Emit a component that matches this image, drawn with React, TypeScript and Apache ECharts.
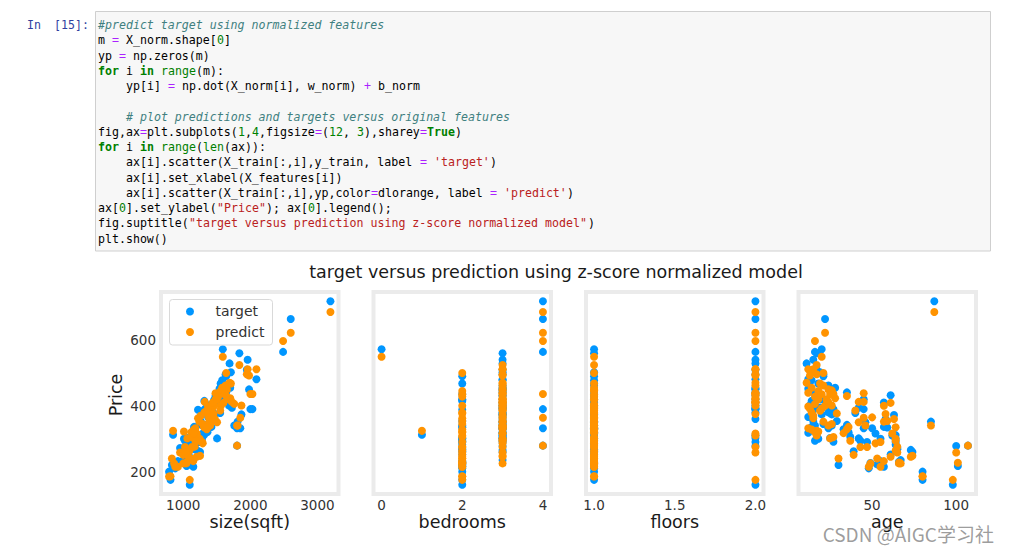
import React, { useEffect, useRef } from 'react';
import * as echarts from 'echarts';

// ---- data (one entry per house) ----
const sizeSqft = [1589, 1836, 1959, 1947, 2602, 2488, 848, 1200, 1557, 1430, 1220, 1682, 1760, 1260, 1314, 2091, 1981, 2031, 1867, 1802, 1690, 1710, 1630, 1580, 1650, 1540, 1600, 1520, 1480, 1700, 1460, 1390, 1350, 1440, 1410, 1370, 1240, 1180, 1120, 1060, 1130, 1290, 1160, 1500, 1620, 952, 1244, 1725, 864, 1026, 1092, 1504, 1350, 1180, 1000, 1320, 1480, 1380, 1290, 1040, 1110, 1150, 1600, 1560, 1450, 1420, 1390, 1310, 1230, 1170, 1080, 1050, 1000, 1200, 1250, 1400, 1130, 1470, 920, 1550, 1280, 1200, 1360, 3194, 788, 810, 1097, 1040, 1050, 1802, 1810, 2000, 1850, 1640, 880, 830, 1010, 1160, 1640];
const bedrooms = [0, 3, 3, 3, 4, 4, 1, 2, 2, 3, 2, 3, 3, 3, 2, 3, 3, 3, 3, 3, 3, 3, 3, 3, 3, 3, 3, 2, 3, 3, 2, 3, 3, 3, 2, 3, 3, 3, 2, 3, 2, 2, 2, 3, 2, 2, 3, 3, 2, 3, 2, 3, 3, 3, 2, 3, 3, 3, 3, 2, 2, 2, 3, 3, 3, 3, 2, 3, 3, 2, 2, 2, 3, 3, 3, 3, 2, 3, 2, 3, 2, 3, 3, 4, 2, 2, 2, 3, 2, 4, 3, 4, 4, 2, 2, 2, 2, 3, 3];
const floors = [1, 1, 2, 2, 2, 2, 1, 2, 1, 1, 1, 2, 1, 1, 1, 2, 2, 2, 1, 1, 2, 1, 2, 1, 1, 2, 1, 1, 1, 2, 1, 1, 1, 2, 1, 1, 1, 1, 1, 1, 1, 1, 1, 1, 1, 1, 1, 2, 1, 1, 1, 1, 1, 1, 1, 2, 2, 1, 1, 1, 1, 1, 2, 2, 2, 1, 1, 1, 1, 1, 1, 1, 1, 1, 1, 1, 2, 1, 1, 1, 1, 2, 1, 2, 1, 1, 2, 2, 1, 1, 1, 2, 1, 1, 1, 1, 1, 1, 2];
const age = [20, 17, 15, 17, 22, 16, 17, 17, 18, 20, 15, 23, 16, 15, 14, 12, 13, 25, 26, 24, 11, 19, 21, 14, 24, 12, 26, 16, 18, 28, 22, 13, 19, 24, 29, 12, 21, 12, 16, 25, 27, 26, 14, 23, 20, 65, 64, 42, 66, 43, 64, 42, 35, 37, 39, 45, 45, 50, 52, 49, 53, 57, 61, 57, 58, 57, 59, 64, 64, 65, 61, 66, 67, 73, 74, 46, 47, 63, 55, 40, 55, 62, 36, 87, 80, 80, 98, 100, 101, 107, 85, 27, 45, 21, 48, 30, 18, 33, 35];
const price = [572, 560, 540, 510, 664, 564, 312, 302, 468, 374, 388, 401, 340, 353, 415, 481, 450, 390, 374, 332, 529, 502, 495, 478, 462, 452, 445, 436, 430, 455, 418, 402, 395, 380, 354, 366, 345, 318, 294, 302, 291, 340, 336, 410, 420, 272, 300, 394, 230, 294, 282, 301, 342, 306, 262, 390, 420, 332, 316, 226, 222, 215, 432, 410, 360, 336, 334, 311, 290, 268, 252, 227, 235, 266, 260, 350, 290, 372, 232, 378, 300, 310, 320, 718, 200, 175, 160, 278, 217, 279, 352, 390, 332, 490, 210, 220, 300, 329, 441];
const predicted = [549, 524, 511, 496, 622, 597, 324, 310, 445, 392, 362, 420, 406, 370, 380, 511, 492, 436, 401, 340, 470, 468, 462, 455, 450, 440, 447, 428, 420, 423, 400, 392, 385, 410, 377, 398, 352, 332, 320, 301, 305, 345, 328, 418, 435, 258, 300, 412, 225, 275, 264, 350, 329, 294, 251, 412, 438, 365, 286, 225, 240, 232, 409, 400, 375, 352, 354, 335, 294, 276, 245, 228, 225, 245, 248, 340, 275, 360, 215, 386, 290, 316, 336, 685, 185, 186, 175, 258, 227, 279, 340, 436, 364, 500, 215, 240, 322, 317, 430];

const featureNames = ['size(sqft)', 'bedrooms', 'floors', 'age'];
const features = [sizeSqft, bedrooms, floors, age];
const xTickValues = [[1000, 2000, 3000], [0, 2, 4], [1.0, 1.5, 2.0], [50, 100]];
const xRanges = [[668, 3314], [-0.2, 4.2], [0.95, 2.05], [6.2, 111.8]];
const yTickValues = [200, 400, 600];
const yRange = [132, 746];
const suptitle = 'target versus prediction using z-score normalized model';
const yLabel = 'Price';
const legendNames = ['target', 'predict'];

type Tok = [string, string];
const codeLines: Tok[][] = [
  [['c', '#predict target using normalized features']],
  [['n', 'm '], ['o', '='], ['n', ' X_norm.shape['], ['num', '0'], ['n', ']']],
  [['n', 'yp '], ['o', '='], ['n', ' np.zeros(m)']],
  [['k', 'for'], ['n', ' i '], ['k', 'in'], ['n', ' '], ['b', 'range'], ['n', '(m):']],
  [['n', '    yp[i] '], ['o', '='], ['n', ' np.dot(X_norm[i], w_norm) '], ['o', '+'], ['n', ' b_norm']],
  [],
  [['c', '    # plot predictions and targets versus original features']],
  [['n', 'fig,ax'], ['o', '='], ['n', 'plt.subplots('], ['num', '1'], ['n', ','], ['num', '4'], ['n', ',figsize'], ['o', '='], ['n', '('], ['num', '12'], ['n', ', '], ['num', '3'], ['n', '),sharey'], ['o', '='], ['k', 'True'], ['n', ')']],
  [['k', 'for'], ['n', ' i '], ['k', 'in'], ['n', ' '], ['b', 'range'], ['n', '('], ['b', 'len'], ['n', '(ax)):']],
  [['n', '    ax[i].scatter(X_train[:,i],y_train, label '], ['o', '='], ['n', ' '], ['s', "'target'"], ['n', ')']],
  [['n', '    ax[i].set_xlabel(X_features[i])']],
  [['n', '    ax[i].scatter(X_train[:,i],yp,color'], ['o', '='], ['n', 'dlorange, label '], ['o', '='], ['n', ' '], ['s', "'predict'"], ['n', ')']],
  [['n', 'ax['], ['num', '0'], ['n', '].set_ylabel('], ['s', '"Price"'], ['n', '); ax['], ['num', '0'], ['n', '].legend();']],
  [['n', 'fig.suptitle('], ['s', '"target versus prediction using z-score normalized model"'], ['n', ')']],
  [['n', 'plt.show()']],
];

const BLUE = '#0096ff';
const ORANGE = '#ff9300';
const MPL_FONT = 'DejaVu Sans';
const MONO = 'DejaVu Sans Mono';

const tokStyle: Record<string, any> = {
  n: { fill: '#000000' },
  c: { fill: '#408080', fontStyle: 'italic' },
  k: { fill: '#008000', fontWeight: 'bold' },
  b: { fill: '#008000' },
  o: { fill: '#aa22ff' },
  num: { fill: '#008000' },
  s: { fill: '#ba2121' },
};

function buildOption() {
  const gridLefts = [161, 373.5, 586, 798.5];
  const gridW = 177.5;
  const gridTop = 292;
  const gridH = 202;

  const grids = gridLefts.map((l) => ({
    left: l,
    top: gridTop,
    width: gridW,
    height: gridH,
    show: true,
    backgroundColor: '#ffffff',
    borderColor: '#ebebeb',
    borderWidth: 4,
  }));

  const xAxes = features.map((_, i) => ({
    type: 'value',
    gridIndex: i,
    min: xRanges[i][0],
    max: xRanges[i][1],
    axisLine: { show: false },
    axisTick: { show: false },
    splitLine: { show: false },
    axisLabel: {
      customValues: xTickValues[i],
      margin: 4,
      fontSize: 13.5,
      fontFamily: MPL_FONT,
      color: '#333333',
      formatter: (v: number) => (i === 2 ? v.toFixed(1) : String(v)),
    },
  }));

  const yAxes = features.map((_, i) => ({
    type: 'value',
    gridIndex: i,
    min: yRange[0],
    max: yRange[1],
    axisLine: { show: false },
    axisTick: { show: false },
    splitLine: { show: false },
    axisLabel: {
      show: i === 0,
      customValues: yTickValues,
      margin: 5,
      fontSize: 13.5,
      fontFamily: MPL_FONT,
      color: '#333333',
    },
  }));

  const series: any[] = [];
  features.forEach((f, i) => {
    series.push({
      type: 'scatter',
      name: legendNames[0],
      xAxisIndex: i,
      yAxisIndex: i,
      symbolSize: 8,
      itemStyle: { color: BLUE, opacity: 1 },
      data: f.map((x, k) => [x, price[k]]),
      z: 2,
    });
    series.push({
      type: 'scatter',
      name: legendNames[1],
      xAxisIndex: i,
      yAxisIndex: i,
      symbolSize: 8,
      itemStyle: { color: ORANGE, opacity: 1 },
      data: f.map((x, k) => [x, predicted[k]]),
      z: 3,
    });
  });

  const graphics: any[] = [];
  // code cell
  graphics.push({
    type: 'rect',
    shape: { x: 95.5, y: 11.5, width: 895, height: 239.5 },
    style: { fill: '#f7f7f7', stroke: '#cfcfcf', lineWidth: 1 },
    z: 1,
  });
  graphics.push({
    type: 'text', x: 27, y: 25, z: 2,
    style: { text: 'In', fill: '#303f9f', fontSize: 11.6, fontFamily: MONO, textVerticalAlign: 'middle' },
  });
  graphics.push({
    type: 'text', x: 54, y: 25, z: 2,
    style: { text: '[15]:', fill: '#303f9f', fontSize: 11.6, fontFamily: MONO, textVerticalAlign: 'middle' },
  });
  const CODE_X = 98, CODE_Y0 = 25, LINE_H = 15.25, CHAR_W = 7;
  codeLines.forEach((line, li) => {
    let col = 0;
    line.forEach(([st, txt]) => {
      const trimmed = txt.replace(/^ +/, '');
      const lead = txt.length - trimmed.length;
      const body = trimmed.replace(/ +$/, '');
      if (body.length) {
        graphics.push({
          type: 'text',
          x: CODE_X + (col + lead) * CHAR_W,
          y: CODE_Y0 + li * LINE_H,
          z: 2,
          style: {
            text: body,
            fontSize: 11.6,
            fontFamily: MONO,
            textVerticalAlign: 'middle',
            ...tokStyle[st],
          },
        });
      }
      col += txt.length;
    });
  });

  // suptitle
  graphics.push({
    type: 'text', x: 556, y: 272, z: 5,
    style: { text: suptitle, fontSize: 17.5, fontFamily: MPL_FONT, fill: '#1a1a1a', textAlign: 'center', textVerticalAlign: 'middle' },
  });
  // axis labels
  featureNames.forEach((nm, i) => {
    graphics.push({
      type: 'text', x: gridLefts[i] + gridW / 2, y: 522, z: 5,
      style: { text: nm, fontSize: 17.5, fontFamily: MPL_FONT, fill: '#1a1a1a', textAlign: 'center', textVerticalAlign: 'middle' },
    });
  });
  graphics.push({
    type: 'text', x: 116, y: 395, rotation: Math.PI / 2, z: 5,
    style: { text: yLabel, fontSize: 17.5, fontFamily: MPL_FONT, fill: '#1a1a1a', textAlign: 'center', textVerticalAlign: 'middle' },
  });
  // legend
  graphics.push({
    type: 'rect', z: 50,
    shape: { x: 169.5, y: 299.5, width: 103, height: 45.5, r: 3 },
    style: { fill: 'rgba(255,255,255,0.85)', stroke: '#d9d9d9', lineWidth: 1 },
  });
  [BLUE, ORANGE].forEach((c, k) => {
    graphics.push({
      type: 'circle', z: 51,
      shape: { cx: 190, cy: 311.5 + k * 20.5, r: 4 },
      style: { fill: c },
    });
    graphics.push({
      type: 'text', x: 215.5, y: 311 + k * 20.5, z: 51,
      style: { text: legendNames[k], fontSize: 14, fontFamily: MPL_FONT, fill: '#333333', textVerticalAlign: 'middle' },
    });
  });
  // watermark
  graphics.push({
    type: 'text', x: 994, y: 533, z: 60,
    style: { text: 'CSDN @AIGC学习社', fontSize: 19, fontFamily: 'Noto Sans CJK SC', fill: 'rgba(140,140,140,0.85)', textAlign: 'right', textVerticalAlign: 'middle' },
  });

  return {
    animation: false,
    backgroundColor: '#ffffff',
    grid: grids,
    xAxis: xAxes,
    yAxis: yAxes,
    series,
    graphic: { elements: graphics },
  };
}

export default function App() {
  const ref = useRef<HTMLDivElement>(null);
  useEffect(() => {
    if (!ref.current) return;
    const chart = echarts.init(ref.current, null, { renderer: 'svg' });
    chart.setOption(buildOption() as any);
    return () => chart.dispose();
  }, []);
  return (
    <div
      ref={ref}
      style={{ position: 'absolute', left: 0, top: 0, width: 1010, height: 552, background: '#ffffff' }}
    />
  );
}
